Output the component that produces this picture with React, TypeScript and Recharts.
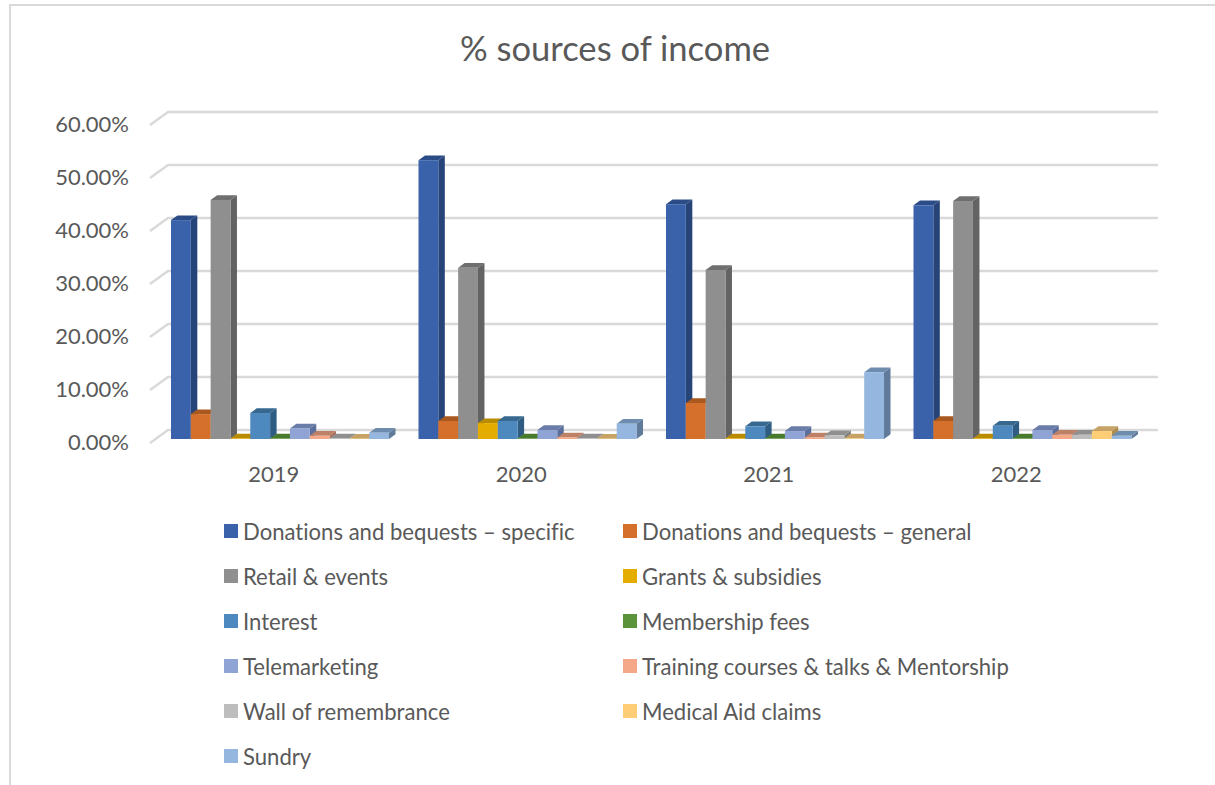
import React from "react";
import { Bar, BarChart, CartesianGrid, Legend, Text, XAxis, YAxis } from "recharts";

const years = ["2019", "2020", "2021", "2022"];
const specific = [41.3, 52.6, 44.3, 44.1];
const general = [4.7, 3.4, 6.8, 3.4];
const retail = [45.1, 32.3, 31.9, 44.9];
const grants = [0.1, 3.0, 0.1, 0.1];
const interest = [4.9, 3.4, 2.4, 2.5];
const membership = [0.1, 0.1, 0.1, 0.1];
const telemarketing = [2.0, 1.7, 1.5, 1.7];
const training = [0.6, 0.3, 0.3, 0.8];
const wall = [0.1, 0.1, 0.7, 0.8];
const medical = [0.05, 0.05, 0.1, 1.5];
const sundry = [1.2, 2.9, 12.6, 0.6];
const yTicks = [0, 10, 20, 30, 40, 50, 60];

type Series = { key: string; name: string; values: number[]; front: string; side: string; top: string };

const series: Series[] = [
  { key: "specific", name: "Donations and bequests – specific", values: specific, front: "#3A62AB", side: "#264478", top: "#2B4C86" },
  { key: "general", name: "Donations and bequests – general", values: general, front: "#D4702B", side: "#9E541F", top: "#A9591F" },
  { key: "retail", name: "Retail & events", values: retail, front: "#8F8F8F", side: "#636363", top: "#6F6F6F" },
  { key: "grants", name: "Grants & subsidies", values: grants, front: "#E5AC00", side: "#997300", top: "#B98C00" },
  { key: "interest", name: "Interest", values: interest, front: "#4D88BE", side: "#2F5C82", top: "#37688F" },
  { key: "membership", name: "Membership fees", values: membership, front: "#5A933A", side: "#3D6426", top: "#487A2E" },
  { key: "telemarketing", name: "Telemarketing", values: telemarketing, front: "#8FA3D4", side: "#5C6F9C", top: "#6A7DA8" },
  { key: "training", name: "Training courses & talks & Mentorship", values: training, front: "#F4A888", side: "#A8705A", top: "#BD8168" },
  { key: "wall", name: "Wall of remembrance", values: wall, front: "#BDBDBD", side: "#7F7F7F", top: "#8F8F8F" },
  { key: "medical", name: "Medical Aid claims", values: medical, front: "#FFCD75", side: "#AD8C50", top: "#C6A265" },
  { key: "sundry", name: "Sundry", values: sundry, front: "#95B6DF", side: "#607A9A", top: "#6E8CAE" },
];

const rows = years.map((year, i) => {
  const row: Record<string, string | number> = { year };
  series.forEach((s) => {
    row[s.key] = s.values[i];
  });
  return row;
});

const FONT = "Lato, 'Open Sans', sans-serif";
const INK = "#595959";
const RULE = "#D9D9D9";
const DEPTH_X = 6.5;
const DEPTH_Y = 4.7;
const AXIS_FONT = 22;
const NO_LIGATURES = { fontVariantLigatures: "none" } as const;

// Front face plus the top and right faces that give a column its depth.
function Column(props: any, s: Series) {
  const { x, y, width, height } = props;
  const r = x + width;
  const b = y + height;
  return (
    <g>
      <polygon points={`${r},${y} ${r + DEPTH_X},${y - DEPTH_Y} ${r + DEPTH_X},${b - DEPTH_Y} ${r},${b}`} fill={s.side} />
      <polygon points={`${x},${y} ${x + DEPTH_X},${y - DEPTH_Y} ${r + DEPTH_X},${y - DEPTH_Y} ${r},${y}`} fill={s.top} />
      <rect x={x} y={y} width={width} height={height} fill={s.front} />
    </g>
  );
}

// A gridline runs along the back wall and folds forward down the side wall.
function WallLine(props: any) {
  const { x1, x2, y1 } = props;
  const d = `M${x1 - 6},${y1 + 4} L${x1 + 12},${y1 - 9} L${x2 + 12},${y1 - 9}`;
  return <path d={d} fill="none" stroke={RULE} strokeWidth={2.4} />;
}

function LegendGrid() {
  return (
    <div style={{ position: "relative", width: 0, height: 0 }}>
      {series.map((s, i) => {
        const col = i % 2;
        const row = Math.floor(i / 2);
        return (
          <div
            key={s.key}
            style={{
              position: "absolute",
              left: col === 0 ? 0 : 399,
              top: row * 45,
              display: "flex",
              alignItems: "center",
              height: 24,
              whiteSpace: "nowrap",
              fontFamily: FONT,
              fontSize: 22.1,
              color: INK,
              ...NO_LIGATURES,
            }}
          >
            <span style={{ width: 14, height: 14, background: s.front, marginRight: 5, display: "inline-block" }} />
            {s.name}
          </div>
        );
      })}
    </div>
  );
}

export default function App() {
  return (
    <div style={{ position: "absolute", left: 0, top: 0, width: 1215, height: 785, overflow: "hidden", background: "#fff" }}>
      <div
        style={{
          position: "absolute",
          left: 9,
          top: 4,
          width: 1300,
          height: 900,
          border: "2px solid #D9D9D9",
          boxSizing: "border-box",
        }}
      />
      <BarChart
        width={1215}
        height={785}
        data={rows}
        margin={{ top: 121, right: 69, bottom: 316, left: 96 }}
        barSize={19.82}
        barGap={0}
        style={{ position: "absolute", left: 0, top: 0 }}
      >
        <text x={615} y={61} textAnchor="middle" fontFamily={FONT} fontSize={34.6} fill={INK} style={NO_LIGATURES}>
          % sources of income
        </text>
        <CartesianGrid vertical={false} horizontal={WallLine} />
        <XAxis
          dataKey="year"
          height={30}
          axisLine={false}
          tickLine={false}
          tick={(p: any) => (
            <Text x={p.x - 6} y={474} textAnchor="middle" verticalAnchor="middle" fontFamily={FONT} fontSize={AXIS_FONT} fill={INK}>
              {p.payload.value}
            </Text>
          )}
        />
        <YAxis
          width={60}
          domain={[0, 60]}
          ticks={yTicks}
          axisLine={false}
          tickLine={false}
          tick={(p: any) => (
            <Text x={129} y={p.y + 3} textAnchor="end" verticalAnchor="middle" fontFamily={FONT} fontSize={AXIS_FONT} fill={INK}>
              {`${p.payload.value.toFixed(2)}%`}
            </Text>
          )}
        />
        {series.map((s) => (
          <Bar key={s.key} dataKey={s.key} name={s.name} isAnimationActive={false} shape={(p: any) => Column(p, s)} />
        ))}
        <Legend content={<LegendGrid />} wrapperStyle={{ position: "absolute", left: 224, top: 519, width: 0, height: 0 }} />
      </BarChart>
    </div>
  );
}
